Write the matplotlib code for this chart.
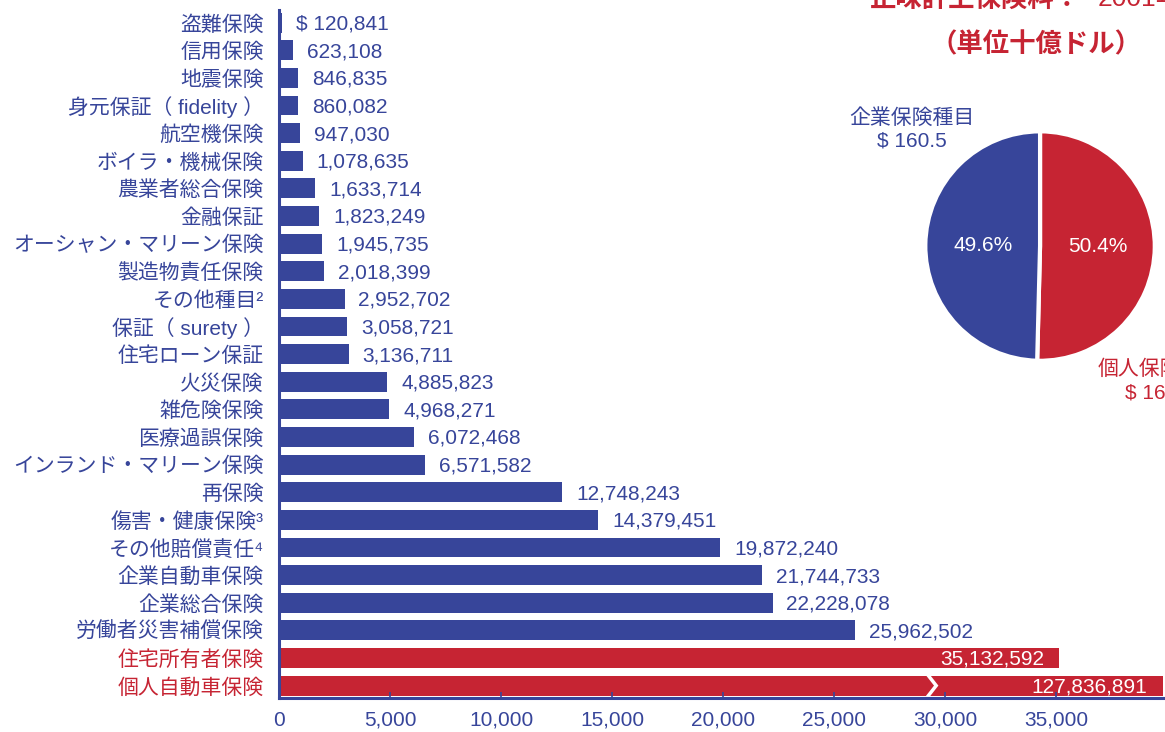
import matplotlib
matplotlib.use("Agg")
import matplotlib.pyplot as plt

plt.rcParams['font.family'] = ['Liberation Sans', 'Noto Sans CJK JP', 'DejaVu Sans']

BLUE = '#37459a'
RED = '#c62433'

# 種目別の正味計上保険料（千ドル）
lines = ['盗難保険', '信用保険', '地震保険', '身元保証（ fidelity ）', '航空機保険',
         'ボイラ・機械保険', '農業者総合保険', '金融保証', 'オーシャン・マリーン保険',
         '製造物責任保険', 'その他種目²', '保証（ surety ）', '住宅ローン保証', '火災保険',
         '雑危険保険', '医療過誤保険', 'インランド・マリーン保険', '再保険',
         '傷害・健康保険³', 'その他賠償責任⁴', '企業自動車保険', '企業総合保険',
         '労働者災害補償保険', '住宅所有者保険', '個人自動車保険']
premiums = [120841, 623108, 846835, 860082, 947030, 1078635, 1633714, 1823249,
            1945735, 2018399, 2952702, 3058721, 3136711, 4885823, 4968271, 6072468,
            6571582, 12748243, 14379451, 19872240, 21744733, 22228078, 25962502,
            35132592, 127836891]
personal = ['住宅所有者保険', '個人自動車保険']

# 企業保険と個人保険の構成（十億ドル、%）
pie_names = ['個人保険種目', '企業保険種目']
pie_totals = [163.0, 160.5]
pie_shares = [50.4, 49.6]

x_ticks = [0, 5000, 10000, 15000, 20000, 25000, 30000, 35000]
x_max = 39800

fig = plt.figure(figsize=(11.65, 7.32), dpi=100)
ax = fig.add_axes([0.2395, 0.0464, 0.7585, 0.9396])

colors = [RED if n in personal else BLUE for n in lines]
widths = [p / 1000 for p in premiums]
ypos = list(range(len(lines)))
ax.barh(ypos, widths, height=0.72, color=colors)

for y, p, w in zip(ypos, premiums, widths):
    txt = f'{p:,}'
    if y == 0:
        txt = '$ ' + txt
    if w > 30000:
        ax.annotate(txt, (min(w, x_max), y), xytext=(-11, -1), textcoords='offset points',
                    ha='right', va='center', color='white', fontsize=15)
    else:
        ax.annotate(txt, (w, y), xytext=(10, -1), textcoords='offset points',
                    ha='left', va='center', color=BLUE, fontsize=15)

# 省略記号（棒の切断）
yb = ypos[-1]
ax.plot([29250, 29600, 29250], [yb - 0.36, yb, yb + 0.36], color='white', lw=2.5,
        solid_joinstyle='miter')

ax.set_xlim(0, x_max)
ax.set_ylim(len(lines) - 0.55, -0.45)
ax.set_xticks(x_ticks)
ax.set_xticklabels([f'{t:,}' for t in x_ticks])
ax.set_yticks(ypos)
ax.set_yticklabels(lines)
for lbl, c in zip(ax.get_yticklabels(), colors):
    lbl.set_color(c)
ax.tick_params(axis='y', length=0, pad=11, labelsize=15)
ax.tick_params(axis='x', direction='in', length=4, width=1.2, color=BLUE,
               labelcolor=BLUE, labelsize=15, pad=9)
for s in ['top', 'right']:
    ax.spines[s].set_visible(False)
for s in ['left', 'bottom']:
    ax.spines[s].set_color(BLUE)
    ax.spines[s].set_linewidth(2.2)

# 円グラフ
pax = fig.add_axes([0.7923, 0.504, 0.2009, 0.3197])
wedges, _, autotexts = pax.pie(pie_shares, colors=[RED, BLUE], startangle=90,
                               counterclock=False, radius=1,
                               autopct=lambda v: f'{v:.1f}%', pctdistance=0.5,
                               wedgeprops=dict(edgecolor='white', linewidth=3),
                               textprops=dict(color='white', fontsize=15))
pax.set_xlim(-1.02, 1.02)
pax.set_ylim(-1.02, 1.02)
pax.set_aspect('equal')
pax.axis('off')

fig.text(912 / 1165, 1 - 129 / 732, f'{pie_names[1]}\n$ {pie_totals[1]}', color=BLUE,
         fontsize=15, ha='center', va='center', linespacing=1.25)
fig.text(1160 / 1165, 1 - 381 / 732, f'{pie_names[0]}\n$ {pie_totals[0]}', color=RED,
         fontsize=15, ha='center', va='center', linespacing=1.25)

fig.text(870 / 1165, 1 - (-1) / 732, '正味計上保険料：', color=RED, fontsize=19,
         fontweight='bold', ha='left', va='center')
fig.text(1098 / 1165, 1 - (-1) / 732, '2001年', color=RED, fontsize=19,
         ha='left', va='center')
fig.text(1036 / 1165, 1 - 45 / 732, '（単位十億ドル）', color=RED, fontsize=19,
         fontweight='bold', ha='center', va='center')

fig.savefig('out.png', dpi=100)
